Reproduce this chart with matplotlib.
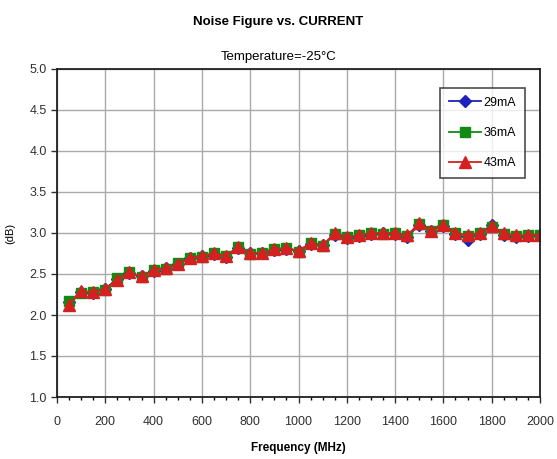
import numpy as np
import matplotlib
matplotlib.use("Agg")
import matplotlib.pyplot as plt
from matplotlib.ticker import MultipleLocator, FormatStrFormatter

plt.rcParams['font.family'] = ['Liberation Sans', 'DejaVu Sans']

freq = [50, 100, 150, 200, 250, 300, 350, 400, 450, 500,
        550, 600, 650, 700, 750, 800, 850, 900, 950, 1000,
        1050, 1100, 1150, 1200, 1250, 1300, 1350, 1400, 1450, 1500,
        1550, 1600, 1650, 1700, 1750, 1800, 1850, 1900, 1950, 2000]

nf_29ma = [2.16, 2.28, 2.27, 2.32, 2.44, 2.51, 2.47, 2.54, 2.57, 2.62,
           2.69, 2.72, 2.74, 2.71, 2.82, 2.75, 2.75, 2.79, 2.81, 2.78,
           2.87, 2.85, 2.98, 2.94, 2.96, 2.99, 3.00, 2.99, 2.95, 3.10,
           3.03, 3.09, 2.99, 2.92, 2.99, 3.10, 2.98, 2.95, 2.96, 2.97]
nf_36ma = [2.17, 2.27, 2.28, 2.31, 2.45, 2.52, 2.46, 2.55, 2.56, 2.63,
           2.70, 2.71, 2.75, 2.72, 2.83, 2.74, 2.76, 2.80, 2.82, 2.77,
           2.88, 2.84, 2.99, 2.95, 2.97, 3.00, 2.99, 3.00, 2.96, 3.11,
           3.02, 3.10, 3.00, 2.96, 3.00, 3.07, 2.99, 2.96, 2.97, 2.98]
nf_43ma = [2.12, 2.29, 2.28, 2.32, 2.43, 2.52, 2.47, 2.55, 2.57, 2.62,
           2.70, 2.72, 2.75, 2.72, 2.83, 2.75, 2.75, 2.80, 2.82, 2.78,
           2.88, 2.85, 3.00, 2.95, 2.97, 3.00, 3.00, 3.00, 2.97, 3.12,
           3.03, 3.10, 3.00, 2.97, 3.00, 3.08, 3.00, 2.97, 2.97, 2.98]

labels = ['29mA', '36mA', '43mA']

fig = plt.figure(figsize=(5.57, 4.59), dpi=100)
ax = fig.add_axes([57/557, 1 - 397/459, (540-57)/557, (397-69)/459])

ax.plot(freq, nf_29ma, color='#1f1fbf', marker='D', markersize=6, lw=1.3, label=labels[0])
ax.plot(freq, nf_36ma, color='#138a13', marker='s', markersize=7, lw=1.3, label=labels[1])
ax.plot(freq, nf_43ma, color='#d42020', marker='^', markersize=8, lw=1.3, label=labels[2])

ax.set_xlim(0, 2000)
ax.set_ylim(1.0, 5.0)
ax.xaxis.set_major_locator(MultipleLocator(200))
ax.xaxis.set_minor_locator(MultipleLocator(50))
ax.yaxis.set_major_locator(MultipleLocator(0.5))
ax.yaxis.set_major_formatter(FormatStrFormatter('%.1f'))
ax.grid(True, which='major', color='#aaaaaa', lw=1)
ax.set_axisbelow(True)
for s in ax.spines.values():
    s.set_color('#202020')
    s.set_linewidth(1.3)
ax.tick_params(axis='both', which='major', direction='out', length=4, width=1,
               labelsize=9, colors='#303030')
ax.tick_params(axis='x', which='minor', direction='out', length=2.5, width=1)
ax.tick_params(axis='x', pad=10)

ax.set_xlabel('Frequency (MHz)', fontsize=8.5, fontweight='bold', labelpad=10)
ax.set_ylabel('(dB)', fontsize=8, labelpad=10)

fig.text(0.5, 1 - 22/459, 'Noise Figure vs. CURRENT', ha='center', va='center',
         fontsize=9.5, fontweight='bold')
fig.text(0.5, 1 - 57/459, 'Temperature=-25°C', ha='center', va='center', fontsize=9.5)

leg = ax.legend(loc='upper right', bbox_to_anchor=(0.969, 0.942), fontsize=9,
                frameon=True, fancybox=False, handlelength=2.6, borderpad=0.7,
                labelspacing=1.45, handletextpad=0.2, borderaxespad=0)
leg.get_frame().set_edgecolor('#202020')
leg.get_frame().set_linewidth(1.2)

fig.savefig('out.png', dpi=100)
